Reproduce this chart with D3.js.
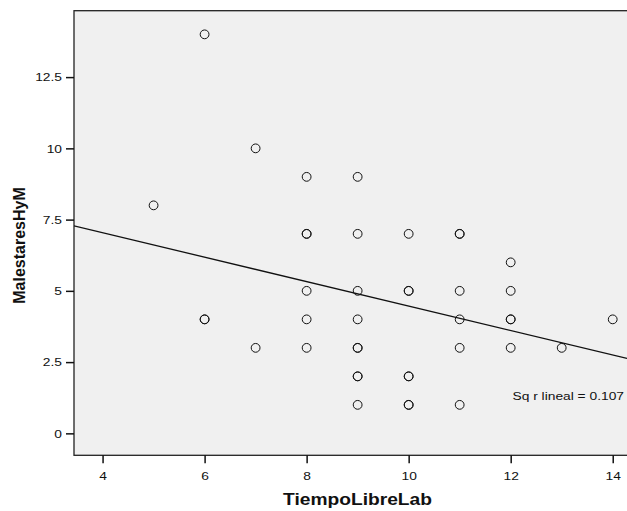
<!DOCTYPE html>
<html>
<head>
<meta charset="utf-8">
<script src="https://cdn.jsdelivr.net/npm/d3@7"></script>
<style>
  body { margin: 0; background: #fff; }
  svg { display: block; font-family: "Liberation Sans", Arial, sans-serif; }
</style>
</head>
<body>
<script>
// TiempoLibreLab (x) vs MalestaresHyM (y); repeated pairs are overplotted
const tiempo = [5, 6, 6, 6, 7, 7, 8, 8, 8, 8, 8, 8, 9, 9, 9, 9, 9, 9, 9, 9, 9,
  10, 10, 10, 10, 10, 10, 10, 11, 11, 11, 11, 11, 11, 12, 12, 12, 12, 12, 13, 14];
const malestares = [8, 14, 4, 4, 10, 3, 9, 7, 7, 5, 4, 3, 9, 7, 5, 4, 3, 3, 2, 2, 1,
  7, 5, 5, 2, 2, 1, 1, 7, 7, 5, 4, 3, 1, 6, 5, 4, 4, 3, 3, 4];

const xTicks = [4, 6, 8, 10, 12, 14];
const yTicks = [0, 2.5, 5, 7.5, 10, 12.5];

// fitted linear line
const intercept = 8.756;
const slope = -0.429;
const fitLabel = "Sq r lineal = 0.107";

const width = 627, height = 511;
const plot = { left: 74, top: 10.7, right: 627, bottom: 455.3 };
const stretch = 1.2; // text in the original is a bit wide

const svg = d3.select("body").append("svg")
  .attr("width", width)
  .attr("height", height);

const x = d3.scaleLinear().domain([3.44, 14.28]).range([plot.left, plot.right]);
const y = d3.scaleLinear().domain([-0.77, 14.83]).range([plot.bottom, plot.top]);

svg.append("clipPath").attr("id", "clip")
  .append("rect")
  .attr("x", plot.left).attr("y", plot.top)
  .attr("width", plot.right - plot.left).attr("height", plot.bottom - plot.top);

svg.append("rect")
  .attr("x", plot.left)
  .attr("y", plot.top)
  .attr("width", plot.right - plot.left + 10)
  .attr("height", plot.bottom - plot.top)
  .attr("fill", "#f0f0f0")
  .attr("stroke", "#222")
  .attr("stroke-width", 1.3);

const g_x = svg.append("g")
  .attr("transform", `translate(0,${plot.bottom})`)
  .call(d3.axisBottom(x).tickValues(xTicks).tickSize(8).tickPadding(9));

const g_y = svg.append("g")
  .attr("transform", `translate(${plot.left},0)`)
  .call(d3.axisLeft(y).tickValues(yTicks).tickSize(8).tickPadding(4)
    .tickFormat(d3.format("")));

[g_x, g_y].forEach(ax => {
  ax.select(".domain").remove();
  ax.selectAll(".tick line").attr("stroke", "#111").attr("stroke-width", 1.5);
  ax.selectAll(".tick text").attr("fill", "#111").style("font-size", "11.5px")
    .style("font-family", "'Liberation Sans', Arial, sans-serif");
});
g_x.selectAll(".tick text").attr("transform", `scale(${stretch},1)`);
g_y.selectAll(".tick text")
  .attr("x", -12 / stretch)
  .attr("transform", `scale(${stretch},1)`);

const pts = tiempo.map((t, i) => ({ t: t, m: malestares[i] }));

svg.append("g").attr("clip-path", "url(#clip)")
  .selectAll("circle")
  .data(pts)
  .join("circle")
  .attr("cx", d => x(d.t))
  .attr("cy", d => y(d.m))
  .attr("r", 4.4)
  .attr("fill", "none")
  .attr("stroke", "#111")
  .attr("stroke-width", 1);

const xd = x.domain();
const line = d3.line().x(d => x(d)).y(d => y(intercept + slope * d));
svg.append("path")
  .attr("clip-path", "url(#clip)")
  .datum(xd)
  .attr("d", line)
  .attr("fill", "none")
  .attr("stroke", "#111")
  .attr("stroke-width", 1.3);

svg.append("text")
  .attr("transform", `translate(624,400) scale(${stretch},1)`)
  .attr("text-anchor", "end")
  .style("font-size", "11.5px")
  .attr("fill", "#111")
  .text(fitLabel);

svg.append("text")
  .attr("transform", `translate(357.5,505) scale(${stretch},1)`)
  .attr("text-anchor", "middle")
  .style("font-size", "16px")
  .style("font-weight", "bold")
  .attr("fill", "#111")
  .text("TiempoLibreLab");

svg.append("text")
  .attr("transform", `translate(25,245.5) rotate(-90)`)
  .attr("text-anchor", "middle")
  .style("font-size", "16px")
  .style("font-weight", "bold")
  .attr("fill", "#111")
  .text("MalestaresHyM");
</script>
</body>
</html>
